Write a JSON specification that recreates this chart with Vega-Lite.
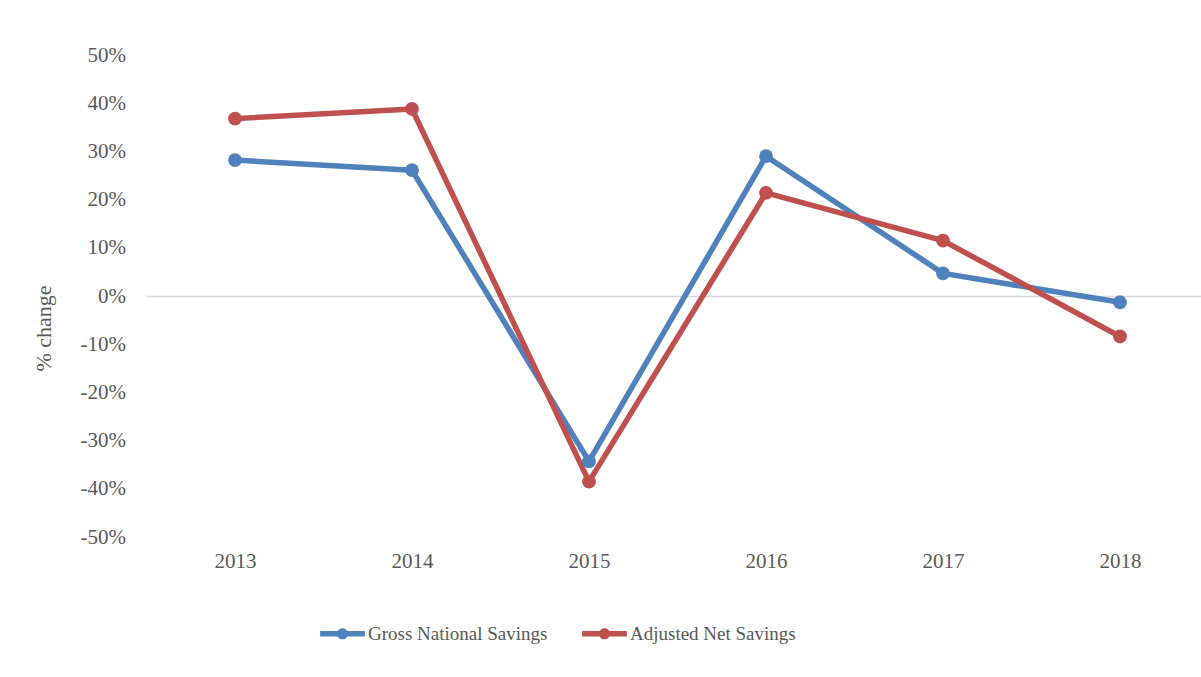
{
  "$schema": "https://vega.github.io/schema/vega-lite/v6.json",
  "width": 1062,
  "height": 482,
  "autosize": {"type": "none"},
  "padding": {"left": 146.5, "top": 55, "right": 0, "bottom": 140},
  "background": "white",
  "config": {"view": {"stroke": null}, "font": "Liberation Serif"},
  "data": {
    "values": [
      {"year": "2013", "series": "Gross National Savings", "change": 0.282},
      {"year": "2014", "series": "Gross National Savings", "change": 0.261},
      {"year": "2015", "series": "Gross National Savings", "change": -0.343},
      {"year": "2016", "series": "Gross National Savings", "change": 0.290},
      {"year": "2017", "series": "Gross National Savings", "change": 0.047},
      {"year": "2018", "series": "Gross National Savings", "change": -0.013},
      {"year": "2013", "series": "Adjusted Net Savings", "change": 0.368},
      {"year": "2014", "series": "Adjusted Net Savings", "change": 0.388},
      {"year": "2015", "series": "Adjusted Net Savings", "change": -0.385},
      {"year": "2016", "series": "Adjusted Net Savings", "change": 0.214},
      {"year": "2017", "series": "Adjusted Net Savings", "change": 0.115},
      {"year": "2018", "series": "Adjusted Net Savings", "change": -0.084}
    ]
  },
  "mark": {
    "type": "line",
    "strokeWidth": 5.5,
    "strokeCap": "round",
    "strokeJoin": "round",
    "point": {"filled": true, "size": 190, "opacity": 1}
  },
  "encoding": {
    "x": {
      "field": "year",
      "type": "ordinal",
      "scale": {"type": "point", "padding": 0.5},
      "axis": {
        "title": null,
        "labelAngle": 0,
        "domain": false,
        "ticks": false,
        "labelFontSize": 21,
        "labelColor": "#595959",
        "labelPadding": 13
      }
    },
    "y": {
      "field": "change",
      "type": "quantitative",
      "scale": {"domain": [-0.5, 0.5], "nice": false, "zero": false},
      "axis": {
        "title": "% change",
        "format": ".0%",
        "labelExpr": "replace(datum.label, '\u2212', '-')",
        "values": [-0.5, -0.4, -0.3, -0.2, -0.1, 0, 0.1, 0.2, 0.3, 0.4, 0.5],
        "domain": false,
        "ticks": false,
        "grid": true,
        "gridColor": "#d9d9d9",
        "gridWidth": 1.5,
        "gridOpacity": {"condition": {"test": "datum.value === 0", "value": 1}, "value": 0},
        "labelFontSize": 21,
        "labelColor": "#595959",
        "labelPadding": 21,
        "titleFontSize": 22,
        "titleFontWeight": "normal",
        "titleColor": "#595959",
        "titleAngle": -90,
        "titleAlign": "center",
        "titleBaseline": "middle",
        "titleX": -103.5,
        "titleY": 273
      }
    },
    "color": {
      "field": "series",
      "type": "nominal",
      "scale": {
        "domain": ["Gross National Savings", "Adjusted Net Savings"],
        "range": ["#4F81BD", "#C0504D"]
      },
      "legend": {
        "orient": "none",
        "legendX": 173.5,
        "legendY": 556,
        "direction": "horizontal",
        "title": null,
        "symbolType": "M-1,-0.12L1,-0.12L1,0.12L-1,0.12Z M0.25,0A0.25,0.25 0 1,1 -0.25,0A0.25,0.25 0 1,1 0.25,0Z",
        "symbolSize": 2000,
        "symbolStrokeWidth": 0,
        "labelFont": "Liberation Serif",
        "labelFontSize": 19,
        "labelLimit": 0,
        "labelColor": "#595959",
        "labelOffset": 3,
        "columnPadding": 34,
        "encode": {
          "symbols": {
            "update": {
              "fill": {"scale": "color", "field": "value"},
              "fillOpacity": {"value": 1},
              "opacity": {"value": 1}
            }
          }
        }
      }
    }
  }
}
